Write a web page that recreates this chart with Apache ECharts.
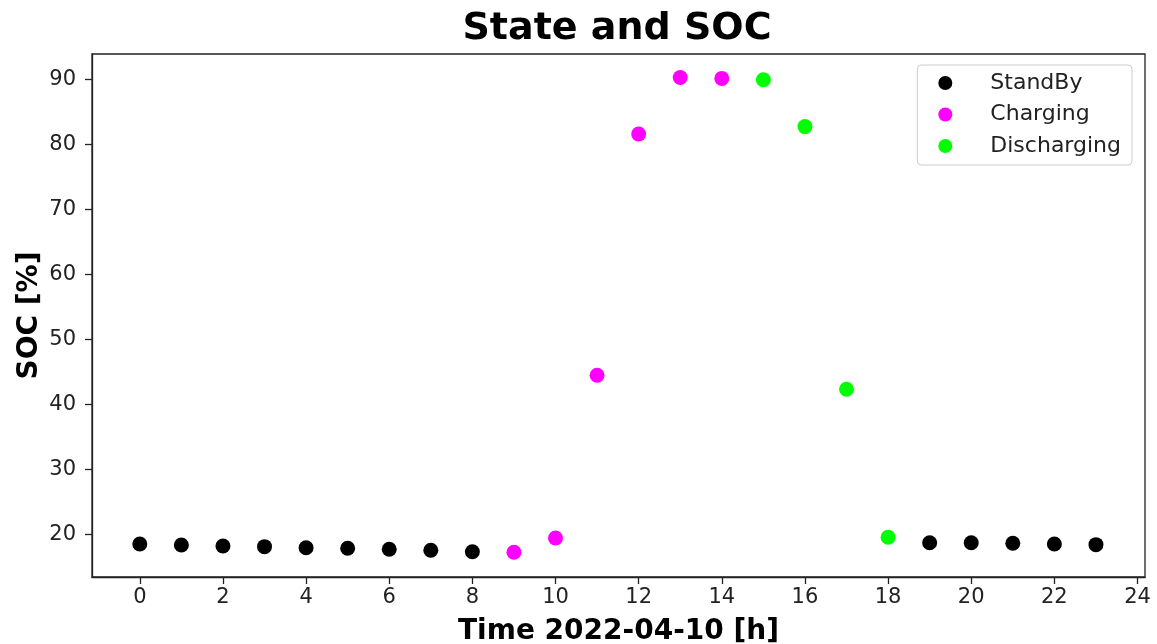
<!DOCTYPE html>
<html>
<head>
<meta charset="utf-8">
<script src="https://cdn.jsdelivr.net/npm/echarts@6/dist/echarts.min.js"></script>
<style>html,body{margin:0;padding:0;background:#fff}#c{width:1157px;height:644px}</style>
</head>
<body>
<div id="c"></div>
<script>
const standbyHours = [0,1,2,3,4,5,6,7,8,19,20,21,22,23];
const standbySOC   = [18.57,18.42,18.27,18.16,18.0,17.91,17.76,17.6,17.39,18.77,18.77,18.68,18.57,18.47];
const chargingHours = [9,10,11,12,13,14];
const chargingSOC   = [17.3,19.5,44.5,81.56,90.25,90.1];
const dischargingHours = [15,16,17,18];
const dischargingSOC   = [89.9,82.7,42.35,19.6];
const xTicks = [0,2,4,6,8,10,12,14,16,18,20,22,24];
const yTicks = [20,30,40,50,60,70,80,90];

const FONT = 'DejaVu Sans';
const pair = (xs, ys) => xs.map((x, i) => [x, ys[i]]);

const chart = echarts.init(document.getElementById('c'), null, {renderer: 'canvas'});
chart.setOption({
  animation: false,
  backgroundColor: '#fff',
  textStyle: {fontFamily: FONT},
  graphic: [{
    type: 'text', x: 617, y: 10,
    style: {text: 'State and SOC', font: 'bold 38px "DejaVu Sans"', fill: '#000', textAlign: 'center', textVerticalAlign: 'top'}
  }],
  grid: {left: 92, right: 12, top: 54, bottom: 67, show: true, borderColor: '#222', borderWidth: 1.3, containLabel: false, outerBoundsMode: 'none'},
  legend: {
    orient: 'vertical', right: 25, top: 65,
    padding: [7, 11, 8, 21],
    itemGap: 9.5,
    itemWidth: 30, itemHeight: 14,
    icon: 'circle',
    borderColor: '#ccc', borderWidth: 1, borderRadius: 4,
    backgroundColor: '#fff',
    textStyle: {fontFamily: FONT, fontSize: 22, color: '#222', padding: [0, 0, 0, 25], lineHeight: 22},
    data: ['StandBy', 'Charging', 'Discharging']
  },
  xAxis: {
    type: 'value', min: -1.15, max: 24.18,
    name: 'Time 2022-04-10 [h]', nameLocation: 'middle', nameGap: 41, nameMoveOverlap: false,
    nameTextStyle: {fontFamily: FONT, fontSize: 28, fontWeight: 'bold', color: '#000'},
    axisLine: {show: true, onZero: false, lineStyle: {color: '#222', width: 1.3}},
    axisTick: {show: true, length: 7, inside: false, customValues: xTicks, lineStyle: {color: '#222', width: 1.3}},
    axisLabel: {show: true, customValues: xTicks, margin: 10, fontSize: 21, color: '#222', fontFamily: FONT},
    splitLine: {show: false}
  },
  yAxis: {
    type: 'value', min: 13.5, max: 93.85,
    name: 'SOC [%]', nameLocation: 'middle', nameGap: 48, nameRotate: 90, nameMoveOverlap: false,
    nameTextStyle: {fontFamily: FONT, fontSize: 28, fontWeight: 'bold', color: '#000'},
    axisLine: {show: true, onZero: false, lineStyle: {color: '#222', width: 1.3}},
    axisTick: {show: true, length: 7, inside: false, customValues: yTicks, lineStyle: {color: '#222', width: 1.3}},
    axisLabel: {show: true, customValues: yTicks, margin: 16, fontSize: 21, color: '#222', fontFamily: FONT},
    splitLine: {show: false}
  },
  series: [
    {name: 'StandBy', type: 'scatter', symbolSize: 15, itemStyle: {color: '#000000', opacity: 1}, data: pair(standbyHours, standbySOC)},
    {name: 'Charging', type: 'scatter', symbolSize: 15, itemStyle: {color: '#ff00ff', opacity: 1}, data: pair(chargingHours, chargingSOC)},
    {name: 'Discharging', type: 'scatter', symbolSize: 15, itemStyle: {color: '#00ff00', opacity: 1}, data: pair(dischargingHours, dischargingSOC)}
  ]
});
</script>
</body>
</html>
